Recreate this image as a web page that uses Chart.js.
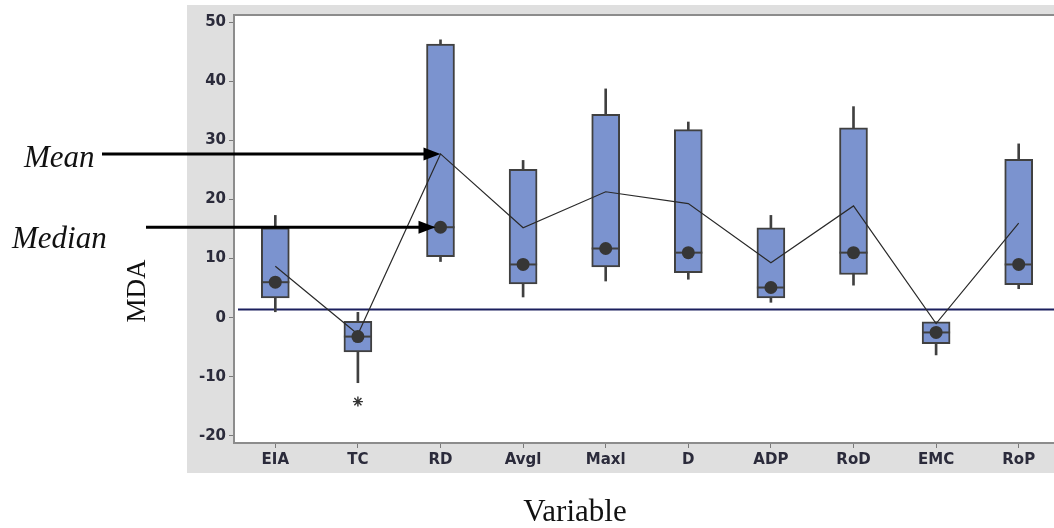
<!DOCTYPE html>
<html>
<head>
<meta charset="utf-8">
<script src="https://cdn.jsdelivr.net/npm/chart.js@4.4.1/dist/chart.umd.min.js"></script>
<style>
  html, body { margin: 0; padding: 0; background: #ffffff; overflow: hidden; }
  #wrap { width: 1064px; height: 528px; }
</style>
</head>
<body>
<div id="wrap"><canvas id="c" width="1064" height="528"></canvas></div>
<script>
// ---- data ----
const categories = ['EIA', 'TC', 'RD', 'Avgl', 'Maxl', 'D', 'ADP', 'RoD', 'EMC', 'RoP'];
const whiskerLow  = [1.0, -11.0,  9.5,  3.5,  6.2,  6.5,  2.6,  5.5, -6.3,  4.9];
const q1          = [3.35, -5.8, 10.3,  5.7,  8.6,  7.6, 3.35,  7.3, -4.4,  5.6];
const medians     = [6.0,  -3.2, 15.3,  9.0, 11.7, 11.0,  5.1, 11.0, -2.5,  9.0];
const q3          = [15.2, -0.6, 46.3, 25.1, 34.4, 31.8, 15.2, 32.1, -0.7, 26.8];
const whiskerHigh = [17.3,  0.9, 47.0, 26.6, 38.7, 33.1, 17.3, 35.7, -0.7, 29.4];
const means       = [8.7,  -2.8, 27.7, 15.2, 21.3, 19.3,  9.3, 18.9, -1.0, 16.0];
const outliers    = [null, -14.2, null, null, null, null, null, null, null, null];
const referenceValue = 1.4;
const yTicks = [-20, -10, 0, 10, 20, 30, 40, 50];
const annotatedCategory = 'RD';

const boxRanges = categories.map((_, i) => [q1[i], q3[i]]);
const whiskerRanges = categories.map((_, i) => [whiskerLow[i], whiskerHigh[i]]);

const decor = {
  id: 'decor',
  beforeDraw(chart) {
    const { ctx, chartArea: a, width } = chart;
    ctx.save();
    ctx.fillStyle = '#dfdfdf';
    ctx.fillRect(187, 5, width - 187, 468);
    ctx.fillStyle = '#ffffff';
    ctx.fillRect(a.left, a.top, a.right - a.left, a.bottom - a.top);
    ctx.restore();
  },
  beforeDatasetsDraw(chart) {
    const { ctx, chartArea: a, scales } = chart;
    const y = scales.y.getPixelForValue(referenceValue);
    ctx.save();
    ctx.strokeStyle = '#1b1f5e';
    ctx.lineWidth = 2;
    ctx.beginPath();
    ctx.moveTo(a.left + 4, y);
    ctx.lineTo(a.right, y);
    ctx.stroke();
    // top border of the plot frame
    ctx.strokeStyle = '#8c8c8c';
    ctx.beginPath();
    ctx.moveTo(a.left, a.top);
    ctx.lineTo(a.right, a.top);
    ctx.stroke();
    ctx.restore();
  },
  afterDraw(chart) {
    const { ctx, scales } = chart;
    const idx = categories.indexOf(annotatedCategory);
    const xc = scales.x.getPixelForValue(idx);
    const yMean = scales.y.getPixelForValue(means[idx]);
    const yMed = scales.y.getPixelForValue(medians[idx]);
    ctx.save();
    function arrow(x0, x1, y) {
      ctx.strokeStyle = '#000';
      ctx.fillStyle = '#000';
      ctx.lineWidth = 3;
      ctx.beginPath();
      ctx.moveTo(x0, y);
      ctx.lineTo(x1 - 14, y);
      ctx.stroke();
      ctx.beginPath();
      ctx.moveTo(x1, y);
      ctx.lineTo(x1 - 17, y - 6.5);
      ctx.lineTo(x1 - 17, y + 6.5);
      ctx.closePath();
      ctx.fill();
    }
    arrow(102, xc, yMean);
    arrow(146, xc - 5, yMed);

    ctx.fillStyle = '#111';
    ctx.textBaseline = 'alphabetic';
    ctx.textAlign = 'left';
    ctx.font = 'italic 31px "Liberation Serif", "Times New Roman", serif';
    ctx.fillText('Mean', 24, 167);
    ctx.fillText('Median', 12, 248);

    ctx.font = '31px "Liberation Serif", "Times New Roman", serif';
    ctx.textAlign = 'center';
    ctx.fillText('Variable', 575, 521);

    ctx.save();
    ctx.translate(145, 291);
    ctx.rotate(-Math.PI / 2);
    ctx.font = '27px "Liberation Serif", "Times New Roman", serif';
    ctx.textAlign = 'center';
    ctx.fillText('MDA', 0, 0);
    ctx.restore();
    ctx.restore();
  }
};

const tickFont = { family: '"DejaVu Sans", sans-serif', size: 15, weight: 'bold' };

new Chart(document.getElementById('c'), {
  type: 'bar',
  data: {
    labels: categories,
    datasets: [
      {
        label: 'Whiskers',
        data: whiskerRanges,
        backgroundColor: '#404040',
        borderWidth: 0,
        barThickness: 2,
        grouped: false,
        order: 6
      },
      {
        label: 'IQR',
        data: boxRanges,
        backgroundColor: '#7b93cf',
        borderColor: '#404040',
        borderWidth: 2,
        borderSkipped: false,
        barThickness: 28,
        grouped: false,
        order: 5
      },
      {
        type: 'line',
        label: 'Median line',
        data: medians,
        showLine: false,
        pointStyle: 'line',
        pointRadius: 14,
        pointHoverRadius: 14,
        pointBorderColor: '#404040',
        pointBorderWidth: 2,
        order: 4
      },
      {
        type: 'line',
        label: 'Mean',
        data: means,
        borderColor: '#2a2a2a',
        borderWidth: 1.2,
        pointRadius: 0,
        tension: 0,
        fill: false,
        order: 3
      },
      {
        type: 'line',
        label: 'Median',
        data: medians,
        showLine: false,
        pointStyle: 'circle',
        pointRadius: 6.5,
        pointBackgroundColor: '#363636',
        pointBorderColor: '#363636',
        pointBorderWidth: 0,
        order: 2
      },
      {
        type: 'line',
        label: 'Outlier',
        data: outliers,
        showLine: false,
        pointStyle: 'star',
        pointRadius: 5,
        pointBorderColor: '#333',
        pointBorderWidth: 1.4,
        order: 1
      }
    ]
  },
  options: {
    responsive: false,
    animation: false,
    devicePixelRatio: 1,
    layout: { autoPadding: false, padding: { top: 15, right: 4, left: 0, bottom: 0 } },
    plugins: { legend: { display: false }, tooltip: { enabled: false } },
    scales: {
      x: {
        offset: true,
        grid: { display: true, offset: false, drawOnChartArea: false, drawTicks: true, tickLength: 5, color: '#7a7a7a' },
        border: { display: true, color: '#8c8c8c', width: 2 },
        ticks: { font: tickFont, color: '#2b2b3b', padding: 3, maxRotation: 0, autoSkip: false },
        afterFit(s) { s.height = 85; s.paddingLeft = 0; s.paddingRight = 0; }
      },
      y: {
        min: -21.2,
        max: 51.2,
        afterBuildTicks(s) { s.ticks = yTicks.map(v => ({ value: v })); },
        grid: { display: true, drawOnChartArea: false, drawTicks: true, tickLength: 5, color: '#7a7a7a' },
        border: { display: true, color: '#8c8c8c', width: 2 },
        ticks: { font: tickFont, color: '#2b2b3b', padding: 3 },
        afterFit(s) { s.width = 234; s.paddingTop = 0; s.paddingBottom = 0; }
      }
    }
  },
  plugins: [decor]
});
</script>
</body>
</html>
